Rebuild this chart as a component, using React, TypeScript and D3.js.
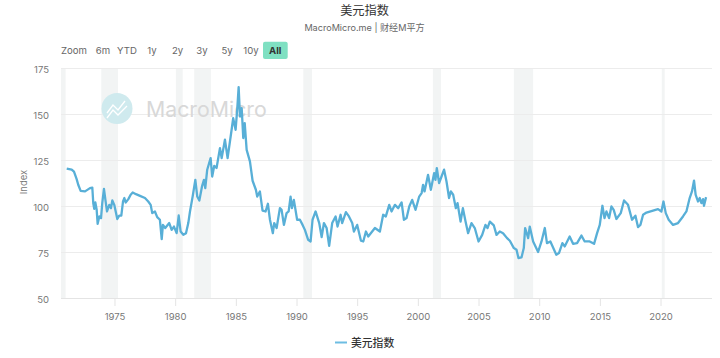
import React from "react";
import * as d3 from "d3";

const title = "美元指数";
const subtitle = "MacroMicro.me | 财经M平方";
const seriesName = "美元指数";
const yAxisTitle = "Index";
const rangeButtons = ["Zoom", "6m", "YTD", "1y", "2y", "3y", "5y", "10y", "All"];
const yTicks = [50, 75, 100, 125, 150, 175];
const xTicks = [1975, 1980, 1985, 1990, 1995, 2000, 2005, 2010, 2015, 2020];
const recessions: [number, number][] = [
  [1970.55, 1970.93], [1973.87, 1975.25], [1980.02, 1980.58], [1981.53, 1982.9],
  [1990.52, 1991.23], [2001.2, 2001.87], [2007.87, 2009.46], [2020.06, 2020.3],
];
const years = [
  1971.02, 1971.43, 1971.62, 1971.84, 1971.97, 1972.17, 1972.53, 1972.94, 1973.13, 1973.21, 1973.29, 1973.38,
  1973.49, 1973.57, 1973.71, 1973.85, 1973.95, 1974.09, 1974.23, 1974.34, 1974.53, 1974.67, 1974.78, 1974.94,
  1975.19, 1975.35, 1975.52, 1975.66, 1975.77, 1975.88, 1976.1, 1976.29, 1976.46, 1976.73, 1977.06, 1977.47,
  1977.74, 1977.94, 1978.07, 1978.29, 1978.48, 1978.7, 1978.85, 1978.95, 1979.14, 1979.47, 1979.67, 1979.86,
  1980.08, 1980.25, 1980.41, 1980.63, 1980.85, 1981.04, 1981.18, 1981.4, 1981.62, 1981.78, 1981.95, 1982.17,
  1982.33, 1982.44, 1982.6, 1982.88, 1983.01, 1983.18, 1983.37, 1983.65, 1983.79, 1984.06, 1984.28, 1984.61,
  1984.74, 1984.94, 1985.08, 1985.19, 1985.3, 1985.44, 1985.57, 1985.69, 1985.85, 1986.12, 1986.34, 1986.61,
  1986.72, 1986.94, 1987.16, 1987.41, 1987.6, 1987.77, 1988.01, 1988.12, 1988.32, 1988.59, 1988.73, 1988.92,
  1989.14, 1989.31, 1989.47, 1989.58, 1989.74, 1990.01, 1990.24, 1990.46, 1990.65, 1990.92, 1991.12, 1991.28,
  1991.53, 1991.83, 1992.03, 1992.22, 1992.44, 1992.65, 1992.9, 1993.18, 1993.34, 1993.59, 1993.72, 1994.03,
  1994.28, 1994.55, 1994.69, 1994.96, 1995.27, 1995.46, 1995.68, 1995.87, 1996.42, 1996.83, 1997.1, 1997.32,
  1997.6, 1997.79, 1998.07, 1998.34, 1998.62, 1998.81, 1999.03, 1999.25, 1999.49, 1999.77, 2000.07, 2000.27,
  2000.39, 2000.51, 2000.8, 2001.03, 2001.3, 2001.41, 2001.52, 2001.71, 2001.91, 2002.12, 2002.32, 2002.53,
  2002.68, 2002.87, 2003.09, 2003.23, 2003.48, 2003.67, 2003.89, 2004.1, 2004.38, 2004.65, 2004.96, 2005.26,
  2005.53, 2005.7, 2005.89, 2006.22, 2006.44, 2006.71, 2006.98, 2007.31, 2007.54, 2007.87, 2008.09, 2008.25,
  2008.5, 2008.69, 2008.8, 2009.05, 2009.18, 2009.46, 2009.87, 2010.15, 2010.42, 2010.6, 2010.88, 2011.37,
  2011.59, 2011.87, 2012.06, 2012.47, 2012.75, 2013.08, 2013.44, 2013.71, 2014.12, 2014.48, 2014.73, 2014.95,
  2015.17, 2015.34, 2015.5, 2015.72, 2015.91, 2016.1, 2016.32, 2016.68, 2016.95, 2017.28, 2017.61, 2017.89,
  2018.1, 2018.3, 2018.52, 2018.8, 2019.34, 2019.75, 2020.03, 2020.2, 2020.39, 2020.63, 2020.99, 2021.4,
  2021.81, 2022.09, 2022.36, 2022.55, 2022.72, 2022.85, 2023.05, 2023.19, 2023.33, 2023.46, 2023.54, 2023.71,
];
const dollarIndex = [
  120.6, 120, 118.9, 114.9, 111.8, 108.5, 108.2, 110, 110.3, 101.8, 98.7, 102.2,
  98.2, 90.6, 94.6, 93.7, 101.8, 109.6, 102.7, 97.3, 100.9, 99.1, 103.3, 100.9,
  93.2, 95, 95, 102.7, 104.6, 102.2, 104, 106.4, 107.6, 106.7, 105.8, 104.6,
  102.7, 100.9, 96.4, 97.3, 94.2, 92.8, 82.3, 90, 88.3, 91, 87.3, 89.1,
  85.5, 95.1, 86.4, 84.6, 85.5, 91, 97.3, 105.4, 114.5, 105.4, 103.3, 110.9,
  114.5, 110, 120, 126.3, 116.3, 122.1, 120.9, 131.7, 126.3, 136.3, 126.3, 141.7,
  148, 141.7, 153.5, 164.9, 148.9, 153.5, 137.2, 145.3, 130.8, 124.5, 114, 109.1,
  105.4, 108.2, 97.8, 97.3, 101.5, 92.8, 85.5, 91, 88.3, 99.1, 98.2, 90,
  96.4, 97.3, 105.4, 99.1, 103.6, 92.8, 92.8, 90, 87.3, 81.9, 81, 92.8,
  97.3, 91, 83.4, 91, 88.3, 78.6, 91, 94.6, 89.1, 95.5, 91, 96.9,
  94.6, 91, 86.4, 90, 81.4, 81, 86.4, 83.7, 88.3, 86.4, 95.5, 94.6,
  100.9, 97.3, 100.9, 99.1, 102.2, 92.8, 93.7, 100, 103.6, 98.2, 105.4, 107.3,
  111.8, 108.2, 117.2, 109.1, 118.1, 114.5, 120.9, 112.7, 116.3, 120, 113.6, 104.6,
  108.2, 106.4, 99.1, 101.8, 91.8, 99.1, 91.8, 85.5, 91, 88.3, 81, 84.6,
  90, 88.3, 91.8, 89.7, 84.6, 86.4, 85.5, 82.8, 81.4, 77.4, 76.5, 72,
  72.3, 77.4, 88.3, 82.8, 89.1, 81, 75.3, 81, 88.3, 80.1, 81, 73.8,
  74.7, 80.1, 78.3, 83.7, 79.7, 80.1, 84.2, 81, 81, 79.7, 85.5, 90,
  100.4, 93.7, 97.3, 93.7, 100, 98.2, 93.2, 96.4, 103.3, 100.9, 92.8, 95,
  88.8, 90, 95.5, 96.7, 97.8, 98.6, 97.3, 102.7, 96.4, 92.8, 90, 91,
  94.6, 97.3, 104.6, 108.2, 114.1, 106.4, 102.7, 104.6, 101.8, 104, 100.4, 105.1,
];

const W = 720;
const H = 358;
const sans = "Inter, 'Noto Sans CJK SC', sans-serif";
const cjk = "'Noto Sans CJK SC', sans-serif";
const buttonX = [74, 103, 127, 152, 177.5, 202, 227, 251, 275.3];

export default function App() {
  const x = d3.scaleLinear().domain([1970.55, 2024.2]).range([61, 712]);
  const y = d3.scaleLinear().domain([50, 175]).range([298.5, 68.5]);
  const line = d3.line<number>().x((_, i) => x(years[i])).y((d) => y(d)).curve(d3.curveLinear);

  return (
    <svg width={W} height={H} style={{ position: "absolute", left: 0, top: 0, background: "#fff" }}>
      <text x={364.5} y={14.5} textAnchor="middle" fontFamily={cjk} fontSize={12.2} fill="#333">{title}</text>
      <text x={364.5} y={30.5} textAnchor="middle" fontFamily={sans} fontSize={9.1} fill="#666">{subtitle}</text>

      <rect x={263} y={41.8} width={24.7} height={17.2} rx={2} fill="#7fe0c2" />
      {rangeButtons.map((b, i) => (
        <text key={b} x={buttonX[i]} y={53.8} textAnchor="middle" fontFamily={sans}
          fontSize={9.6} fontWeight={b === "All" ? 700 : 400} fill={b === "All" ? "#333" : "#666"}>{b}</text>
      ))}

      {recessions.map(([a, b]) => (
        <rect key={a} x={x(a)} y={y(175)} width={x(b) - x(a)} height={y(50) - y(175)} fill="#f2f4f4" />
      ))}
      {yTicks.slice(1).map((t) => (
        <line key={t} x1={61} x2={712} y1={y(t)} y2={y(t)} stroke="#ececec" strokeWidth={1} />
      ))}
      <line x1={61} x2={712} y1={y(50)} y2={y(50)} stroke="#e4e4e4" strokeWidth={1.2} />
      {yTicks.map((t) => (
        <text key={t} x={49} y={y(t) + 4.4} textAnchor="end" fontFamily={sans} fontSize={9.5} fill="#777">{t}</text>
      ))}
      {xTicks.map((t) => (
        <g key={t}>
          <line x1={x(t)} x2={x(t)} y1={y(50)} y2={306} stroke="#e4e4e4" strokeWidth={1} />
          <text x={x(t)} y={319.8} textAnchor="middle" fontFamily={sans} fontSize={9.5} fill="#777">{t}</text>
        </g>
      ))}
      <text transform="translate(27,182) rotate(-90)" textAnchor="middle" fontFamily={sans} fontSize={9.5} fill="#777">{yAxisTitle}</text>

      <g>
        <circle cx={117} cy={108.5} r={15.5} fill="#cfeaee" />
        <path d="M107 113 L113 105 L118 110 L125 101 M107 118 L113 110 L118 115 L127 106" fill="none" stroke="#fff" strokeWidth={1.3} />
        <text x={146} y={116.8} fontFamily={sans} fontSize={21.3} fill="#d8d8d8">MacroMicro</text>
      </g>

      <path d={line(dollarIndex) ?? ""} fill="none" stroke="#58afd7" strokeWidth={2.3} strokeLinejoin="round" />

      <line x1={335} x2={347} y1={342.5} y2={342.5} stroke="#6dbde2" strokeWidth={2} />
      <text x={351} y={346.5} fontFamily={cjk} fontSize={10.8} fontWeight={500} fill="#333">{seriesName}</text>
    </svg>
  );
}
